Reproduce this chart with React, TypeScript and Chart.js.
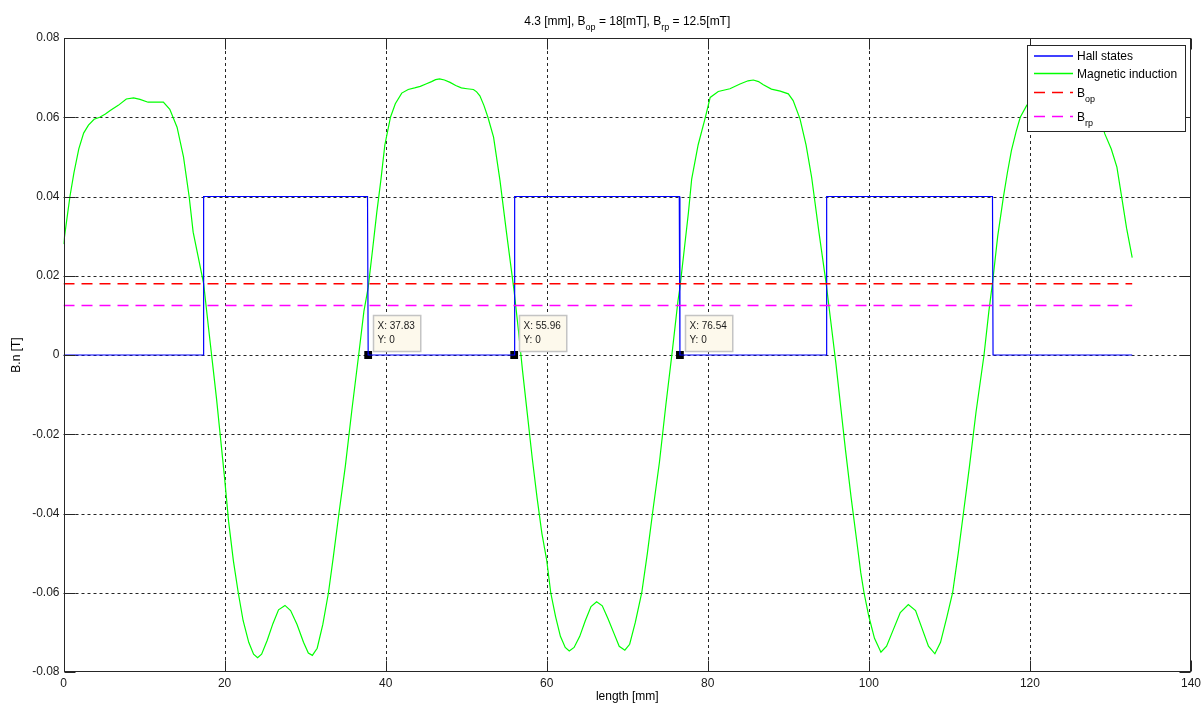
import React, { useEffect, useRef } from 'react';
import { Chart, registerables } from 'chart.js';

Chart.register(...registerables);

// ---------- data ----------
const xTickValues = [0, 20, 40, 60, 80, 100, 120, 140];
const yTickValues = [-0.08, -0.06, -0.04, -0.02, 0, 0.02, 0.04, 0.06, 0.08];

const hallX = [0, 17.35, 17.4, 37.75, 37.83, 55.96, 56.02, 76.46, 76.54, 94.7, 94.76, 115.35, 115.42, 132.7];
const hallY = [0, 0, 0.04, 0.04, 0, 0, 0.04, 0.04, 0, 0, 0.04, 0.04, 0, 0];

// magnetic induction samples [length mm, B T]
const fieldSamples: [number, number][] = [
  [0, 0.028], [0.2, 0.031], [0.8, 0.04], [1.3, 0.046], [1.9, 0.052], [2.5, 0.056], [3.1, 0.058],
  [3.8, 0.0595], [4.5, 0.06], [5.2, 0.0608], [5.8, 0.0617], [6.8, 0.063], [7.8, 0.0646], [8.7, 0.0649],
  [9.5, 0.0645], [10.5, 0.0638], [11.5, 0.0638], [12.4, 0.0638], [13.2, 0.062], [14.1, 0.0575],
  [14.9, 0.05], [15.6, 0.04], [16.1, 0.031], [16.7, 0.025], [17.4, 0.018], [18, 0.007], [18.5, -0.002],
  [19, -0.011], [19.5, -0.021], [20, -0.031], [20.5, -0.042], [21.1, -0.052], [21.7, -0.06],
  [22.3, -0.067], [23, -0.0725], [23.6, -0.0755], [24.1, -0.0764], [24.6, -0.0755], [25.3, -0.072],
  [26, -0.0678], [26.7, -0.0643], [27.5, -0.0632], [28.2, -0.0645], [29, -0.068], [29.8, -0.0725],
  [30.4, -0.0752], [30.9, -0.0758], [31.5, -0.074], [32.2, -0.068], [32.9, -0.06], [33.5, -0.051],
  [34.2, -0.04], [35, -0.028], [35.8, -0.014], [36.65, 0], [37.3, 0.011], [37.83, 0.017],
  [38.4, 0.027], [38.9, 0.036], [39.4, 0.044], [39.9, 0.053], [40.6, 0.06], [41.2, 0.0634],
  [42, 0.0661], [42.8, 0.067], [43.6, 0.0674], [44.3, 0.0678], [45, 0.0684], [45.7, 0.069],
  [46.2, 0.0695], [46.7, 0.0697], [47.3, 0.0694], [48, 0.0688], [48.7, 0.068], [49.4, 0.0674],
  [50.1, 0.0672], [50.9, 0.067], [51.3, 0.0664], [51.7, 0.0654], [52.2, 0.063], [52.7, 0.06],
  [53.4, 0.055], [54.2, 0.044], [55, 0.031], [55.96, 0.016], [56.5, 0.006], [57, -0.004],
  [57.6, -0.015], [58.2, -0.026], [58.8, -0.036], [59.4, -0.045], [60, -0.0518], [60.5, -0.06],
  [61.1, -0.066], [61.7, -0.071], [62.3, -0.0738], [62.8, -0.0747], [63.4, -0.0738], [64.1, -0.071],
  [64.8, -0.067], [65.5, -0.0635], [66.2, -0.0623], [66.9, -0.0633], [67.6, -0.0665], [68.3, -0.07],
  [69, -0.0735], [69.7, -0.0745], [70.3, -0.073], [71, -0.0675], [71.8, -0.06], [72.5, -0.05],
  [73.2, -0.039], [74, -0.027], [74.8, -0.0125], [75.6, 0.0011], [76.3, 0.0137], [76.54, 0.017],
  [77.1, 0.027], [77.6, 0.036], [78, 0.0444], [78.8, 0.053], [79.65, 0.0596], [80.3, 0.065],
  [81.3, 0.0665], [82.75, 0.0672], [84, 0.0684], [85, 0.0692], [85.65, 0.0694], [86.3, 0.069],
  [86.9, 0.0682], [87.9, 0.0671], [89, 0.0666], [90, 0.0659], [90.6, 0.0642], [91.45, 0.0596],
  [92.2, 0.053], [92.9, 0.0448], [93.8, 0.031], [94.7, 0.018], [95.3, 0.008], [95.9, -0.002],
  [96.5, -0.013], [97.1, -0.024], [97.8, -0.036], [98.5, -0.047], [99, -0.055], [99.4, -0.06],
  [100, -0.066], [100.7, -0.0715], [101.5, -0.075], [102.2, -0.0735], [103, -0.0695], [103.9, -0.065],
  [104.9, -0.063], [105.8, -0.0645], [106.6, -0.069], [107.4, -0.0735], [108.2, -0.0754],
  [108.9, -0.0725], [109.7, -0.066], [110.4, -0.06], [111.1, -0.05], [111.8, -0.039], [112.5, -0.028],
  [113.3, -0.0145], [114.3, 0], [114.9, 0.011], [115.4, 0.019], [116, 0.03], [116.7, 0.0398],
  [117.2, 0.046], [117.7, 0.0516], [118.3, 0.0565], [118.8, 0.06], [119.6, 0.063], [120.5, 0.065],
  [121.5, 0.066], [122.5, 0.0668], [123.5, 0.0678], [124.4, 0.0688], [125.3, 0.068], [126.3, 0.067],
  [127.3, 0.0665], [128, 0.063], [128.7, 0.06], [129.3, 0.0558], [130.1, 0.052], [130.8, 0.0474],
  [131.4, 0.0398], [132, 0.032], [132.7, 0.0246],
];

const thresholdX = [0, 132.7];
const bopValue = 0.018;
const brpValue = 0.0125;

const tipX = [37.83, 55.96, 76.54];
const tipY = [0, 0, 0];

const titleParts: [string, boolean][] = [
  ['4.3 [mm], B', false], ['op', true], [' = 18[mT], B', false], ['rp', true], [' = 12.5[mT]', false],
];
const legendEntries: { parts: [string, boolean][]; color: string; dash: number[] }[] = [
  { parts: [['Hall states', false]], color: '#0000ff', dash: [] },
  { parts: [['Magnetic induction', false]], color: '#00ff00', dash: [] },
  { parts: [['B', false], ['op', true]], color: '#ff0000', dash: [11, 7] },
  { parts: [['B', false], ['rp', true]], color: '#ff00ff', dash: [11, 7] },
];
const xTitle = 'length [mm]';
const yTitle = 'B.n [T]';

// ---------- helpers ----------
const FAMILY = '"Liberation Sans", Arial, Helvetica, sans-serif';

function richWidth(ctx: CanvasRenderingContext2D, parts: [string, boolean][], size: number, subSize: number) {
  let w = 0;
  for (const [t, sub] of parts) {
    ctx.font = `${sub ? subSize : size}px ${FAMILY}`;
    w += ctx.measureText(t).width;
  }
  return w;
}

function drawRich(
  ctx: CanvasRenderingContext2D, parts: [string, boolean][], x: number, baseline: number,
  align: 'left' | 'center', size: number, subSize: number, subDrop: number,
) {
  let cx = x;
  if (align === 'center') cx = x - richWidth(ctx, parts, size, subSize) / 2;
  ctx.textAlign = 'left';
  ctx.textBaseline = 'alphabetic';
  for (const [t, sub] of parts) {
    ctx.font = `${sub ? subSize : size}px ${FAMILY}`;
    ctx.fillText(t, cx, baseline + (sub ? subDrop : 0));
    cx += ctx.measureText(t).width;
  }
}

const decorPlugin = {
  id: 'matlabDecor',
  beforeDatasetsDraw(chart: any) {
    const { ctx, chartArea: a, scales } = chart;
    const sx = scales.x;
    const sy = scales.y;
    ctx.save();
    ctx.strokeStyle = '#262626';
    ctx.lineWidth = 1;
    ctx.setLineDash([3, 3]);
    xTickValues.forEach((v) => {
      if (v <= sx.min || v >= sx.max) return;
      const px = Math.round(sx.getPixelForValue(v)) + 0.5;
      ctx.beginPath();
      ctx.moveTo(px, a.bottom);
      ctx.lineTo(px, a.top);
      ctx.stroke();
    });
    yTickValues.forEach((v) => {
      if (v <= sy.min + 1e-9 || v >= sy.max - 1e-9) return;
      const py = Math.round(sy.getPixelForValue(v)) + 0.5;
      ctx.beginPath();
      ctx.moveTo(a.left, py);
      ctx.lineTo(a.right, py);
      ctx.stroke();
    });
    ctx.restore();
  },
  afterDatasetsDraw(chart: any) {
    const { ctx, chartArea: a, scales } = chart;
    const sx = scales.x;
    const sy = scales.y;
    ctx.save();
    ctx.strokeStyle = '#262626';
    ctx.lineWidth = 1;
    ctx.setLineDash([]);
    const L = Math.round(a.left) + 0.5;
    const R = Math.round(a.right) - 0.5;
    const T = Math.round(a.top) + 0.5;
    const B = Math.round(a.bottom) - 0.5;
    ctx.strokeRect(L, T, R - L, B - T);
    const tl = 11;
    ctx.beginPath();
    xTickValues.forEach((v) => {
      const px = Math.round(sx.getPixelForValue(v)) + 0.5;
      ctx.moveTo(px, B); ctx.lineTo(px, B - tl);
      ctx.moveTo(px, T); ctx.lineTo(px, T + tl);
    });
    yTickValues.forEach((v) => {
      const py = Math.round(sy.getPixelForValue(v)) + 0.5;
      ctx.moveTo(L, py); ctx.lineTo(L + tl, py);
      ctx.moveTo(R, py); ctx.lineTo(R - tl, py);
    });
    ctx.stroke();
    ctx.restore();
  },
  afterDraw(chart: any) {
    const { ctx, chartArea: a, scales } = chart;
    const sx = scales.x;
    const sy = scales.y;
    ctx.save();
    ctx.fillStyle = '#000';
    // title
    drawRich(ctx, titleParts, (a.left + a.right) / 2, 25, 'center', 12, 9, 5);
    // x title
    ctx.font = `12px ${FAMILY}`;
    ctx.textAlign = 'center';
    ctx.textBaseline = 'middle';
    ctx.fillText(xTitle, (a.left + a.right) / 2, 697);
    // y title
    ctx.save();
    ctx.translate(17, (a.top + a.bottom) / 2);
    ctx.rotate(-Math.PI / 2);
    ctx.fillText(yTitle, 0, 0);
    ctx.restore();

    // data tips
    tipX.forEach((xv, i) => {
      const px = sx.getPixelForValue(xv);
      const py = sy.getPixelForValue(tipY[i]);
      const l1 = `X: ${xv.toFixed(2)}`;
      const l2 = `Y: ${tipY[i]}`;
      ctx.font = `10px ${FAMILY}`;
      const w = Math.max(ctx.measureText(l1).width, ctx.measureText(l2).width) + 10;
      const bx = Math.round(px + 5) + 0.5;
      const by = Math.round(py - 40.5) + 0.5;
      ctx.fillStyle = '#fdf9ec';
      ctx.fillRect(bx, by, w, 36);
      ctx.strokeStyle = '#c4c4c4';
      ctx.lineWidth = 1.5;
      ctx.strokeRect(bx, by, w, 36);
      ctx.fillStyle = '#1a1a1a';
      ctx.textAlign = 'left';
      ctx.textBaseline = 'alphabetic';
      ctx.fillText(l1, bx + 4, py - 26);
      ctx.fillText(l2, bx + 4, py - 12);
    });

    // legend
    const lx = 1027.5;
    const ly = 45.5;
    const lw = 158;
    const lh = 86;
    ctx.fillStyle = '#ffffff';
    ctx.fillRect(lx, ly, lw, lh);
    ctx.strokeStyle = '#262626';
    ctx.lineWidth = 1;
    ctx.setLineDash([]);
    ctx.strokeRect(lx, ly, lw, lh);
    const rowLine = [56, 73.5, 92.5, 116.5];
    const rowBase = [60, 78, 97, 121];
    legendEntries.forEach((e, i) => {
      ctx.save();
      ctx.strokeStyle = e.color;
      ctx.lineWidth = 1.5;
      ctx.setLineDash(e.dash);
      ctx.beginPath();
      ctx.moveTo(1034, rowLine[i]);
      ctx.lineTo(1073, rowLine[i]);
      ctx.stroke();
      ctx.restore();
      ctx.fillStyle = '#000';
      drawRich(ctx, e.parts, 1077, rowBase[i], 'left', 12, 9, 5);
    });
    ctx.restore();
  },
};

export default function App() {
  const canvasRef = useRef<HTMLCanvasElement | null>(null);

  useEffect(() => {
    const canvas = canvasRef.current;
    if (!canvas) return;
    const hallData = hallX.map((x, i) => ({ x, y: hallY[i] }));
    const fieldData = fieldSamples.map(([x, y]) => ({ x, y }));
    const bopData = thresholdX.map((x) => ({ x, y: bopValue }));
    const brpData = thresholdX.map((x) => ({ x, y: brpValue }));
    const tipData = tipX.map((x, i) => ({ x, y: tipY[i] }));

    const tickFont = { family: FAMILY, size: 12 };
    const chart = new Chart(canvas, {
      type: 'scatter',
      data: {
        datasets: [
          { label: 'Brp', data: brpData, showLine: true, borderColor: '#ff00ff', borderWidth: 1.5, borderDash: [11, 7], pointRadius: 0, tension: 0 },
          { label: 'Bop', data: bopData, showLine: true, borderColor: '#ff0000', borderWidth: 1.5, borderDash: [11, 7], pointRadius: 0, tension: 0 },
          { label: 'Hall states', data: hallData, showLine: true, borderColor: '#0000ff', borderWidth: 1.2, pointRadius: 0, tension: 0 },
          { label: 'Magnetic induction', data: fieldData, showLine: true, borderColor: '#00ff00', borderWidth: 1.2, pointRadius: 0, tension: 0 },
          { label: 'tips', data: tipData, showLine: false, pointStyle: 'rect', pointRadius: 5.5, backgroundColor: '#000', borderWidth: 0 },
        ] as any,
      },
      options: {
        animation: false,
        responsive: false,
        devicePixelRatio: 1,
        layout: { padding: { left: 0, right: 10, top: 38, bottom: 0 } },
        plugins: { legend: { display: false }, title: { display: false }, tooltip: { enabled: false } },
        events: [],
        scales: {
          x: {
            type: 'linear',
            min: 0,
            max: 140,
            ticks: { stepSize: 20, padding: 4, color: '#1a1a1a', font: tickFont, maxRotation: 0, autoSkip: false },
            grid: { display: false, drawTicks: false },
            border: { display: false },
            afterFit: (s: any) => { s.height = 34; s.paddingLeft = 0; s.paddingRight = 0; },
          },
          y: {
            type: 'linear',
            min: -0.08,
            max: 0.08,
            ticks: {
              stepSize: 0.02,
              padding: 4,
              color: '#1a1a1a',
              font: tickFont,
              callback: (v: any) => String(Number(Number(v).toFixed(2))),
            },
            grid: { display: false, drawTicks: false },
            border: { display: false },
            afterFit: (s: any) => { s.width = 63.5; s.paddingTop = 0; s.paddingBottom = 0; },
          },
        },
      } as any,
      plugins: [decorPlugin],
    });
    return () => chart.destroy();
  }, []);

  return (
    <div style={{ position: 'fixed', left: 0, top: 0, width: 1201, height: 706, background: '#fff' }}>
      <canvas ref={canvasRef} width={1201} height={706} style={{ display: 'block', width: 1201, height: 706 }} />
    </div>
  );
}
